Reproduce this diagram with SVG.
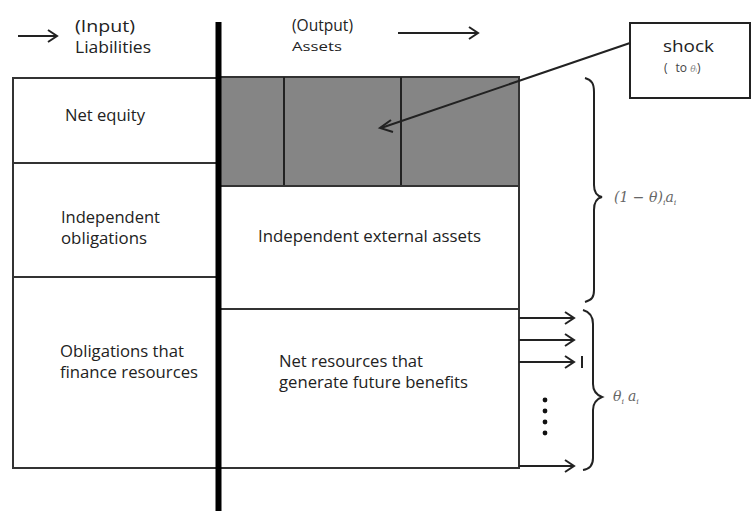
<svg xmlns="http://www.w3.org/2000/svg" width="752" height="513" viewBox="0 0 752 513">
<defs>
<marker id="chev" markerWidth="12" markerHeight="14" refX="10" refY="7" orient="auto" markerUnits="userSpaceOnUse">
<path d="M1,1 L10,7 L1,13" fill="none" stroke="#222" stroke-width="2"/>
</marker>
</defs>
<style>
.box{fill:#fff;stroke:#333;stroke-width:2}
.t{font-family:"Open Sans","Liberation Sans",sans-serif;font-size:16px;fill:#222}
.m{font-family:"DejaVu Serif","Liberation Serif",serif;font-style:italic;fill:#666;font-size:14px}
.ln{stroke:#222;stroke-width:2;fill:none}
</style>
<rect width="752" height="513" fill="#fff"/>
<g id="header">
<line class="ln" x1="18" y1="36" x2="57" y2="36" marker-end="url(#chev)"/>
<text class="t" x="75" y="32" style="font-size:17px" textLength="60" lengthAdjust="spacingAndGlyphs">(Input)</text>
<text class="t" x="75" y="53" textLength="76" lengthAdjust="spacingAndGlyphs">Liabilities</text>
<text class="t" x="292" y="31" textLength="61" lengthAdjust="spacingAndGlyphs">(Output)</text>
<text class="t" x="292" y="51" style="font-size:13px" textLength="50" lengthAdjust="spacingAndGlyphs">Assets</text>
<line class="ln" x1="398" y1="33" x2="478" y2="33" marker-end="url(#chev)"/>
</g>
<g id="net-equity">
<rect class="box" x="13" y="78" width="205" height="85"/>
<text class="t" x="65" y="121" textLength="80" lengthAdjust="spacingAndGlyphs">Net equity</text>
</g>
<g id="independent-obligations">
<rect class="box" x="13" y="163" width="205" height="114"/>
<text class="t" x="61" y="223" textLength="99" lengthAdjust="spacingAndGlyphs">Independent</text>
<text class="t" x="61" y="244" textLength="86" lengthAdjust="spacingAndGlyphs">obligations</text>
</g>
<g id="obligations-finance">
<rect class="box" x="13" y="277" width="205" height="191"/>
<text class="t" x="60" y="357" textLength="124" lengthAdjust="spacingAndGlyphs">Obligations that</text>
<text class="t" x="60" y="378" textLength="138" lengthAdjust="spacingAndGlyphs">finance resources</text>
</g>
<g id="shocked-assets">
<rect x="218" y="77" width="301" height="109" fill="#858585" stroke="#333" stroke-width="2"/>
<line class="ln" x1="284" y1="77" x2="284" y2="186"/>
<line class="ln" x1="401" y1="77" x2="401" y2="186"/>
</g>
<g id="independent-external-assets">
<rect class="box" x="218" y="186" width="301" height="123"/>
<text class="t" x="258" y="242" textLength="223" lengthAdjust="spacingAndGlyphs">Independent external assets</text>
</g>
<g id="net-resources">
<rect class="box" x="218" y="309" width="301" height="159"/>
<text class="t" x="279" y="367" textLength="144" lengthAdjust="spacingAndGlyphs">Net resources that</text>
<text class="t" x="279" y="388" textLength="189" lengthAdjust="spacingAndGlyphs">generate future benefits</text>
</g>
<g id="divider">
<rect x="215.5" y="22" width="6" height="489" fill="#000"/>
</g>
<g id="shock">
<rect x="630" y="23" width="120" height="75" fill="#fff" stroke="#222" stroke-width="2"/>
<text class="t" x="663" y="52" style="font-size:17px" textLength="51" lengthAdjust="spacingAndGlyphs">shock</text>
<text x="664" y="72" style="font-family:'Open Sans',sans-serif;font-size:12px;fill:#444">(<tspan dx="8">to</tspan> <tspan class="m" style="font-size:9px;fill:#888">θ</tspan><tspan style="font-size:6px;fill:#888">i</tspan>)</text>
</g>
<g id="braces">
<path class="ln" d="M585,78 C592,80 594,84 594,92 L594,185 C594,192 597,196 602,197 C597,198 594,202 594,210 L594,290 C594,297 592,300 585,302"/>
<text class="m" x="614" y="202">(1 − θ)<tspan font-size="8" dy="3">i</tspan><tspan dy="-3">a</tspan><tspan font-size="8" dy="3">i</tspan></text>
<path class="ln" d="M583,310 C590,312 593,316 593,324 L593,384 C593,391 597,395 602,397 C597,399 593,403 593,410 L593,458 C593,465 590,469 583,470"/>
<text class="m" x="613" y="401">θ<tspan font-size="8" dy="3">i</tspan><tspan dx="4" dy="-3">a</tspan><tspan font-size="8" dy="3">i</tspan></text>
</g>
<g id="connectors">
<line class="ln" x1="630" y1="43" x2="381" y2="128"/>
<path class="ln" d="M391,120 L380,128 L393,132"/>
<line class="ln" x1="519" y1="318" x2="574" y2="318" marker-end="url(#chev)"/>
<line class="ln" x1="519" y1="340" x2="574" y2="340" marker-end="url(#chev)"/>
<line class="ln" x1="519" y1="362" x2="574" y2="362" marker-end="url(#chev)"/>
<line class="ln" x1="582" y1="356" x2="582" y2="368"/>
<line class="ln" x1="519" y1="466" x2="574" y2="466" marker-end="url(#chev)"/>
<circle cx="545" cy="400" r="2.4" fill="#111"/>
<circle cx="545" cy="411" r="2.4" fill="#111"/>
<circle cx="545" cy="422" r="2.4" fill="#111"/>
<circle cx="545" cy="433" r="2.4" fill="#111"/>
</g>
</svg>
